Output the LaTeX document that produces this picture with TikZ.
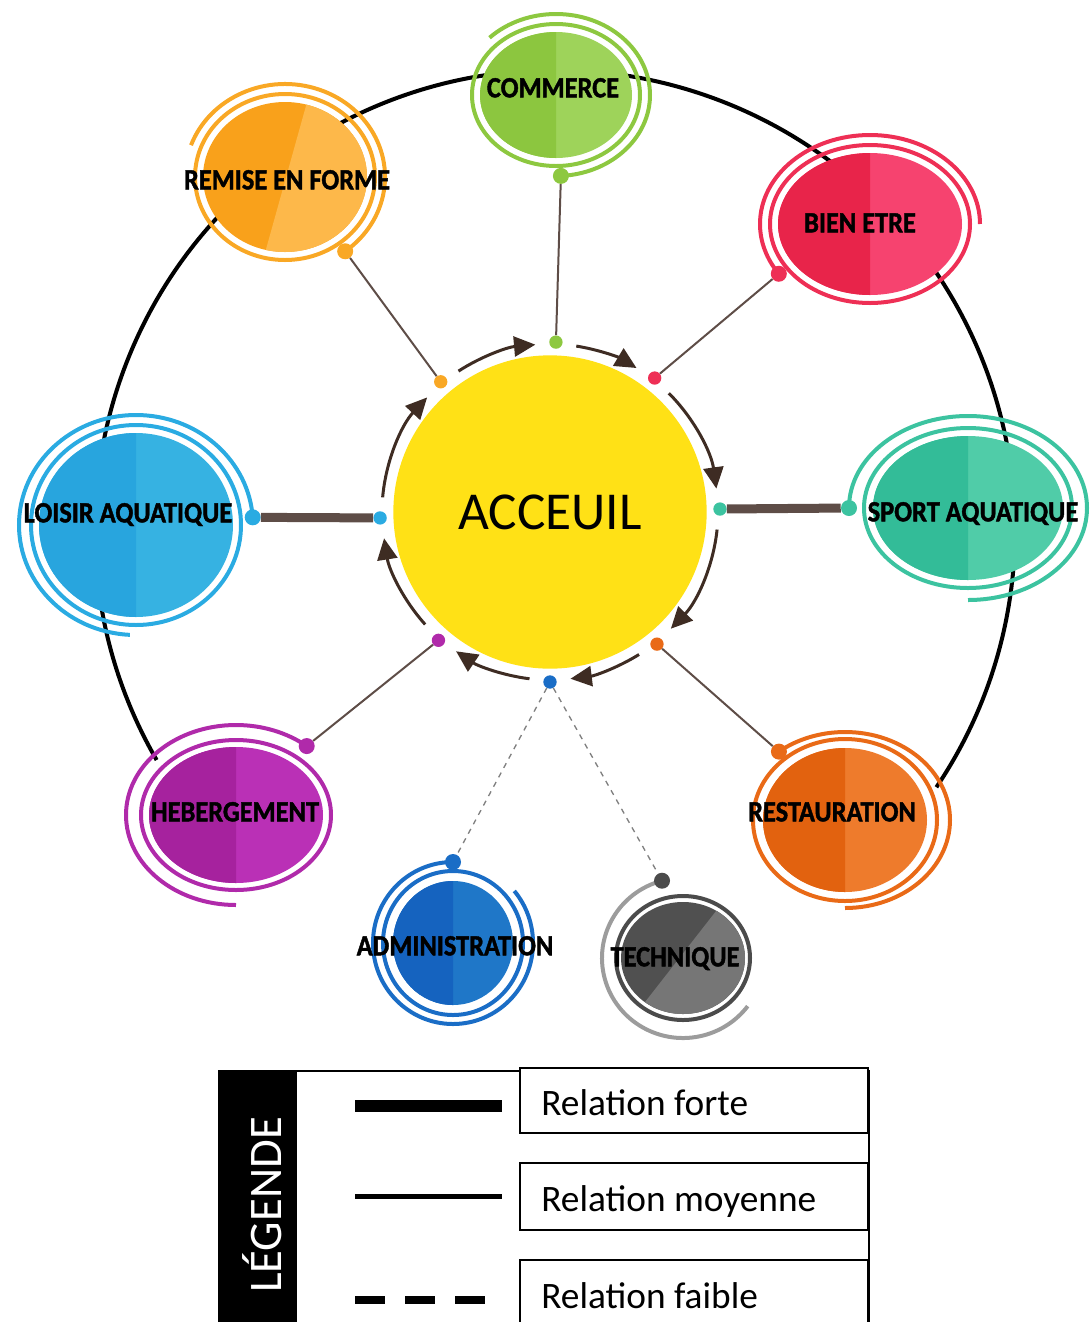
\documentclass[tikz,border=0pt]{standalone}
\usepackage{fontspec}
\setmainfont{Carlito}
\newfontfamily\satfont{Carlito}[BoldFeatures={FakeBold=1.5}]
\usepackage{graphicx}
\usetikzlibrary{arrows.meta,calc}

% colours
\definecolor{accfill}{HTML}{FFE116}
\definecolor{flowc}{HTML}{3E2C23}
\definecolor{linkc}{HTML}{5E4D47}
\definecolor{remA}{HTML}{F9A11B}
\definecolor{remB}{HTML}{FDB84A}
\definecolor{remR}{HTML}{F9A825}
\definecolor{comA}{HTML}{8CC63F}
\definecolor{comB}{HTML}{9ED35A}
\definecolor{comR}{HTML}{8DC840}
\definecolor{bieA}{HTML}{E8244A}
\definecolor{bieB}{HTML}{F6436F}
\definecolor{bieR}{HTML}{EE2F55}
\definecolor{loiA}{HTML}{28A5DE}
\definecolor{loiB}{HTML}{36B2E2}
\definecolor{loiR}{HTML}{2AABE2}
\definecolor{spoA}{HTML}{33BC98}
\definecolor{spoB}{HTML}{50CCA8}
\definecolor{spoR}{HTML}{3CC3A0}
\definecolor{hebA}{HTML}{A6229E}
\definecolor{hebB}{HTML}{BA30B6}
\definecolor{hebR}{HTML}{B02AAA}
\definecolor{resA}{HTML}{E2620F}
\definecolor{resB}{HTML}{EE7B2C}
\definecolor{resR}{HTML}{E96A17}
\definecolor{admA}{HTML}{1563BF}
\definecolor{admB}{HTML}{1F77C8}
\definecolor{admR}{HTML}{1A6DC6}
\definecolor{tecA}{HTML}{505050}
\definecolor{tecB}{HTML}{767676}
\definecolor{tecR}{HTML}{4B4B4B}
\definecolor{tecT}{HTML}{9C9C9C}

\newcommand{\satlab}[1]{\scalebox{0.9}[1]{#1}}

\tikzset{
  ring/.style={line width=3pt},
  sdot/.style={circle, inner sep=0pt, minimum size=12pt},
  cdot/.style={circle, inner sep=0pt, minimum size=10pt},
  lab/.style={font=\satfont\bfseries\fontsize{22}{22}\selectfont, inner sep=0pt, text height=14pt, text depth=0pt},
  strong/.style={line width=6.75pt, linkc},
  medium/.style={line width=1.5pt, linkc},
  weak/.style={line width=1pt, gray, dash pattern=on 4pt off 4pt},
  flow/.style={line width=2.25pt, flowc, -{Triangle[length=16pt,width=15pt]}},
  legtext/.style={anchor=west, inner sep=0pt, font=\fontsize{28}{28}\selectfont, text height=18pt, text depth=0pt},
}

\begin{document}
\begin{tikzpicture}[x=0.75pt, y=-0.75pt]
\useasboundingbox (0,0) rectangle (1090,1322);

% big circle
\draw[line width=3pt] (555,530) ++(150:460) arc[start angle=150, end angle=394, radius=460];

% centre
\node[circle, fill=accfill, minimum size=235pt, inner sep=0pt, font=\fontsize{40}{40}\selectfont] (acc) at (550,512) {ACCEUIL};

% dots round the centre
\foreach \ang/\col/\nm in {-130/remR/rem, -88/comR/com, -52/bieR/bie, -1/spoR/spo, 51/resR/res, 90/admR/adm, 131/hebR/heb, 178/loiR/loi}
  \path (acc.center) ++(\ang:170) node[cdot, fill=\col] (d-\nm) {};

% arrows between the dots
\foreach \a/\b in {-130/-88, -88/-52, -52/-1, -1/51, 51/90, 90/131, 131/178, 178/230}
  \draw[flow] (acc.center) ++(\a+7:168) arc[start angle=\a+7, end angle=\b-7, radius=168];

% remise en forme
\coordinate (rem) at (285,177);
\begin{scope}
  \clip (rem) ellipse[x radius=82, y radius=75];
  \fill[remA] (195,95) rectangle (375,260);
  \fill[remB] (309,95) -- (375,95) -- (375,260) -- (263,260) -- cycle;
\end{scope}
\draw[ring, remR] (rem) ellipse[x radius=90, y radius=83];
\draw[ring, remR] (rem) ++(200:100 and 93) arc[start angle=200, end angle=413, x radius=100, y radius=93];
\path (rem) ++(413:100 and 93) node[sdot, fill=remR] (s-rem) {};
\node[lab] (l-rem) at (287,180) {\satlab{REMISE EN FORME}};

% commerce
\coordinate (com) at (556,95);
\fill[comB] (com) ellipse[x radius=76, y radius=63];
\fill[comA] (com) ++(90:76 and 63) arc[start angle=90, end angle=270, x radius=76, y radius=63] -- cycle;
\draw[ring, comR] (com) ellipse[x radius=84, y radius=71];
\draw[ring, comR] (com) ++(225:94 and 81) arc[start angle=225, end angle=447, x radius=94, y radius=81];
\path (com) ++(447:94 and 81) node[sdot, fill=comR] (s-com) {};
\node[lab] (l-com) at (553,88) {\satlab{COMMERCE}};

% bien etre
\coordinate (bie) at (870,224);
\fill[bieB] (bie) ellipse[x radius=92, y radius=71];
\fill[bieA] (bie) ++(90:92 and 71) arc[start angle=90, end angle=270, x radius=92, y radius=71] -- cycle;
\draw[ring, bieR] (bie) ellipse[x radius=100, y radius=79];
\draw[ring, bieR] (bie) ++(360:110 and 89) arc[start angle=360, end angle=146, x radius=110, y radius=89];
\path (bie) ++(146:110 and 89) node[sdot, fill=bieR] (s-bie) {};
\node[lab] (l-bie) at (860,223) {\satlab{BIEN ETRE}};

% loisir aquatique
\coordinate (loi) at (136,525);
\fill[loiB] (loi) ellipse[x radius=97, y radius=92];
\fill[loiA] (loi) ++(90:97 and 92) arc[start angle=90, end angle=270, x radius=97, y radius=92] -- cycle;
\draw[ring, loiR] (loi) ellipse[x radius=105, y radius=100];
\draw[ring, loiR] (loi) ++(93:117 and 110) arc[start angle=93, end angle=356, x radius=117, y radius=110];
\path (loi) ++(356:117 and 110) node[sdot, fill=loiR] (s-loi) {};
\node[lab] (l-loi) at (128,513) {\satlab{LOISIR AQUATIQUE}};

% sport aquatique
\coordinate (spo) at (968,508);
\fill[spoB] (spo) ellipse[x radius=95, y radius=72];
\fill[spoA] (spo) ++(90:95 and 72) arc[start angle=90, end angle=270, x radius=95, y radius=72] -- cycle;
\draw[ring, spoR] (spo) ellipse[x radius=104, y radius=80];
\draw[ring, spoR] (spo) ++(90:119 and 92) arc[start angle=90, end angle=-180, x radius=119, y radius=92];
\path (spo) ++(-180:119 and 92) node[sdot, fill=spoR] (s-spo) {};
\node[lab] (l-spo) at (973,512) {\satlab{SPORT AQUATIQUE}};

% hebergement
\coordinate (heb) at (236,815);
\fill[hebB] (heb) ellipse[x radius=87, y radius=68];
\fill[hebA] (heb) ++(90:87 and 68) arc[start angle=90, end angle=270, x radius=87, y radius=68] -- cycle;
\draw[ring, hebR] (heb) ellipse[x radius=95, y radius=75];
\draw[ring, hebR] (heb) ++(90:110 and 90) arc[start angle=90, end angle=310, x radius=110, y radius=90];
\path (heb) ++(310:110 and 90) node[sdot, fill=hebR] (s-heb) {};
\node[lab] (l-heb) at (235,812) {\satlab{HEBERGEMENT}};

% restauration
\coordinate (res) at (845,820);
\fill[resB] (res) ellipse[x radius=82, y radius=72];
\fill[resA] (res) ++(90:82 and 72) arc[start angle=90, end angle=270, x radius=82, y radius=72] -- cycle;
\draw[ring, resR] (res) ellipse[x radius=92, y radius=81];
\draw[ring, resR] (res) ++(90:105 and 88) arc[start angle=90, end angle=-129, x radius=105, y radius=88];
\path (res) ++(-129:105 and 88) node[sdot, fill=resR] (s-res) {};
\node[lab] (l-res) at (832,812) {\satlab{RESTAURATION}};

% administration
\coordinate (adm) at (453,943);
\fill[admB] (adm) ellipse[x radius=60, y radius=62];
\fill[admA] (adm) ++(90:60 and 62) arc[start angle=90, end angle=270, x radius=60, y radius=62] -- cycle;
\draw[ring, admR] (adm) ellipse[x radius=70, y radius=72];
\draw[ring, admR] (adm) ++(-90:80 and 81) arc[start angle=-90, end angle=-400, x radius=80, y radius=81];
\path (adm) ++(-90:80 and 81) node[sdot, fill=admR] (s-adm) {};
\node[lab] (l-adm) at (455,946) {\satlab{ADMINISTRATION}};

% technique
\coordinate (tec) at (683,958);
\begin{scope}
  \clip (tec) ellipse[x radius=62, y radius=56];
  \fill[tecA] (615,895) rectangle (750,1020);
  \fill[tecB] (727,897) -- (750,897) -- (750,1020) -- (631,1020) -- cycle;
\end{scope}
\draw[ring, tecR] (tec) ellipse[x radius=67, y radius=62];
\draw[ring, tecT] (tec) ++(-105:81 and 80) arc[start angle=-105, end angle=-323, x radius=81, y radius=80];
\path (tec) ++(-105:81 and 80) node[sdot, fill=tecR] (s-tec) {};
\node[lab] (l-tec) at (675,957) {\satlab{TECHNIQUE}};

% connections
\draw[medium] (d-rem) -- (s-rem);
\draw[medium] (d-com) -- (s-com);
\draw[medium] (d-bie) -- (s-bie);
\draw[strong] (s-loi) -- (d-loi);
\draw[strong] (d-spo) -- (s-spo);
\draw[medium] (d-heb) -- (s-heb);
\draw[medium] (d-res) -- (s-res);
\draw[weak] (d-adm) -- (s-adm);
\draw[weak] (d-adm) -- (s-tec);

% legend
\fill (218,1070) rectangle (297,1322);
\node[rotate=90, white, inner sep=0pt, font=\fontsize{35}{35}\selectfont] (leg) at (262,1205) {LÉGENDE};
\draw[line width=1.5pt] (218,1071) -- (869,1071) -- (869,1322);
\draw[line width=1.5pt, fill=white] (520,1068) rectangle (868,1133);
\draw[line width=1.5pt, fill=white] (520,1163) rectangle (868,1230);
\draw[line width=1.5pt] (520,1322) -- (520,1260) -- (868,1260) -- (868,1322);
\draw[line width=9pt] (355,1106) -- (502,1106);
\draw[line width=3.75pt] (355,1196) -- (502,1196);
\draw[line width=6pt, dash pattern=on 22.5pt off 15pt] (355,1300) -- (490,1300);
\node[legtext] (t-forte) at (541,1103) {Relation forte};
\node[legtext] (t-moy) at (541,1199) {Relation moyenne};
\node[legtext] (t-faible) at (541,1296) {Relation faible};
\end{tikzpicture}
\end{document}
